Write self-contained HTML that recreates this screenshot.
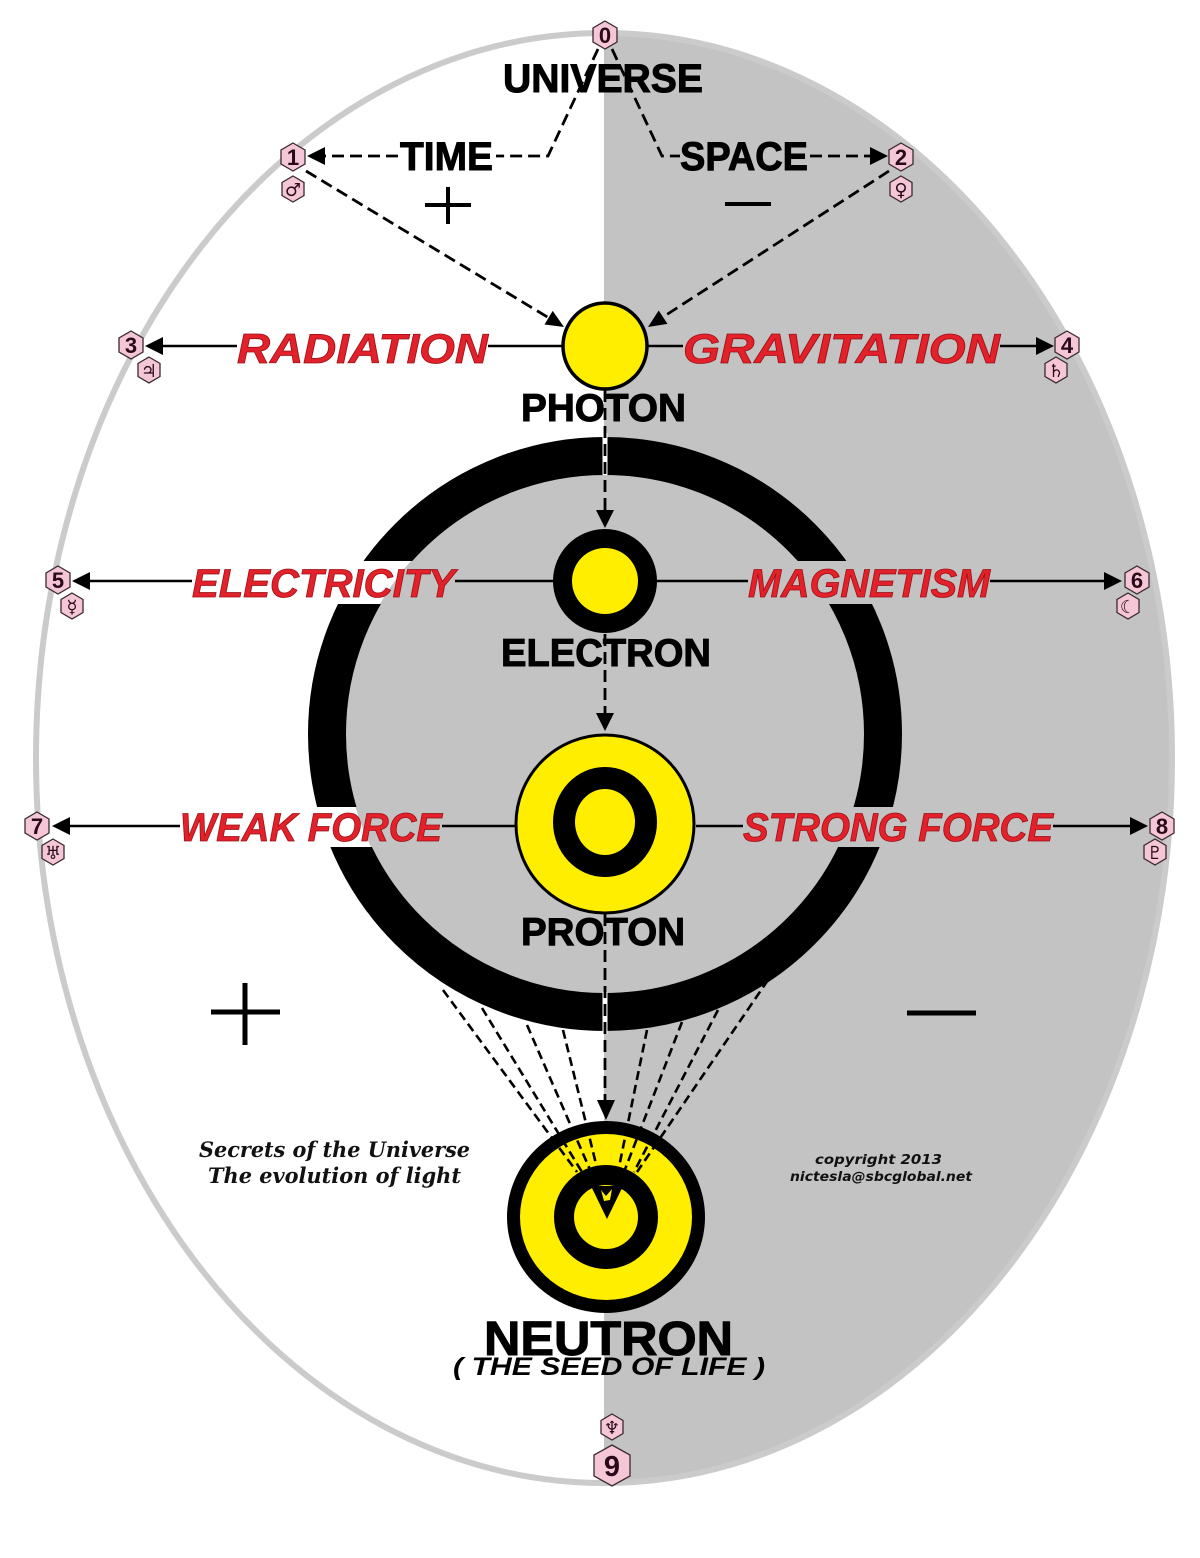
<!DOCTYPE html>
<html>
<head>
<meta charset="utf-8">
<style>
  html,body{margin:0;padding:0;background:#fff;}
  svg{display:block;}
  .blk{font-family:"Liberation Sans",Arial,sans-serif;font-weight:bold;fill:#000;stroke:#000;stroke-width:1;}
  .red{font-family:"Liberation Sans",Arial,sans-serif;font-weight:bold;font-style:italic;fill:#e3212a;stroke:#9a1015;stroke-width:0.8;}
  .num{font-family:"Liberation Sans",Arial,sans-serif;font-weight:bold;fill:#2a0a1a;text-anchor:middle;}
  .sym{font-family:"DejaVu Sans",sans-serif;font-weight:bold;fill:#2a0a1a;text-anchor:middle;}
  .hex{fill:#f4c6d6;stroke:#3a2a30;stroke-width:1.3;}
</style>
</head>
<body>
<svg width="1200" height="1558" viewBox="0 0 1200 1558" xmlns="http://www.w3.org/2000/svg">
  <defs>
    <mask id="ringmask">
      <rect x="0" y="0" width="1200" height="1558" fill="#fff"/>
      <rect x="150" y="561" width="310" height="43" fill="#000"/>
      <rect x="740" y="561" width="262" height="43" fill="#000"/>
      <rect x="150" y="807" width="300" height="40" fill="#000"/>
      <rect x="735" y="807" width="325" height="40" fill="#000"/>
    </mask>
    <polygon id="hx" points="0,-14 12,-7 12,7 0,14 -12,7 -12,-7"/>
    <polygon id="hs" points="0,-13 11,-6.5 11,6.5 0,13 -11,6.5 -11,-6.5"/>
  </defs>

  <!-- background -->
  <rect x="0" y="0" width="1200" height="1558" fill="#fff"/>
  <path d="M604,33 A568,725 0 0,1 604,1483 Z" fill="#c3c3c3"/>
  <ellipse cx="604" cy="758" rx="568" ry="725" fill="none" stroke="#cbcbcb" stroke-width="6"/>

  <!-- big ring interior -->
  <circle cx="605" cy="734" r="260" fill="#c3c3c3"/>
  <!-- big ring -->
  <circle cx="605" cy="734" r="278" fill="none" stroke="#000" stroke-width="38" mask="url(#ringmask)"/>
  <!-- gaps in ring -->
  <rect x="602.5" y="433" width="5" height="42" fill="#fff"/>
  <rect x="602.5" y="992" width="5" height="42" fill="#fff"/>

  <!-- plus / minus signs -->
  <g stroke="#000" stroke-width="4">
    <line x1="425" y1="205" x2="471" y2="205"/>
    <line x1="448" y1="187" x2="448" y2="224"/>
    <line x1="725" y1="204" x2="771" y2="204"/>
  </g>
  <g stroke="#000" stroke-width="5">
    <line x1="211" y1="1012" x2="280" y2="1012"/>
    <line x1="245" y1="983" x2="245" y2="1045"/>
    <line x1="907" y1="1013" x2="976" y2="1013"/>
  </g>

  <!-- top dashed connectors -->
  <g fill="none" stroke="#000" stroke-width="2.8" stroke-dasharray="12,6">
    <path d="M598,49 L548,156 L496,156"/>
    <path d="M398,156 L323,156"/>
    <path d="M612,49 L662,156 L680,156"/>
    <path d="M810,156 L872,156"/>
    <path d="M306,171 L549,318"/>
    <path d="M889,171 L663,317"/>
  </g>
  <g fill="#000">
    <polygon points="307,156 325,147 325,165"/>
    <polygon points="888,156 870,147 870,165"/>
    <polygon points="564,327 544.5,324.5 552.7,310.9"/>
    <polygon points="648,327 667.5,323.9 658.7,310.5"/>
  </g>

  <!-- vertical dashed connectors -->
  <g fill="none" stroke="#000" stroke-width="2.8" stroke-dasharray="12,6">
    <line x1="605" y1="390" x2="605" y2="512"/>
    <line x1="605" y1="634" x2="605" y2="714"/>
    <line x1="605" y1="914" x2="605" y2="1102"/>
  </g>
  <g fill="#000">
    <polygon points="605,528 596,510 614,510"/>
    <polygon points="605,731 596,713 614,713"/>
    <polygon points="606,1120 597,1100 615,1100"/>
  </g>

  <!-- photon -->
  <ellipse cx="605" cy="346" rx="42" ry="43" fill="#ffee00" stroke="#000" stroke-width="3.5"/>
  <!-- electron -->
  <circle cx="605" cy="581" r="52" fill="#000"/>
  <circle cx="605" cy="581" r="33" fill="#ffee00"/>
  <!-- proton -->
  <circle cx="605" cy="824" r="89" fill="#ffee00" stroke="#000" stroke-width="3"/>
  <ellipse cx="605" cy="822" rx="52" ry="55" fill="#000"/>
  <ellipse cx="605" cy="822" rx="30" ry="33" fill="#ffee00"/>
  <!-- neutron -->
  <ellipse cx="606" cy="1217" rx="99" ry="96" fill="#000"/>
  <ellipse cx="606" cy="1217" rx="86" ry="83" fill="#ffee00"/>
  <circle cx="606" cy="1217" r="52" fill="#000"/>
  <circle cx="606" cy="1217" r="32" fill="#ffee00"/>
  <polygon points="607,1219 591,1186 623,1186" fill="#000"/>
  <polygon points="601,1190 606,1196 612,1189 610,1200 604,1201" fill="#ffee00"/>

  <!-- fan dashed lines -->
  <g fill="none" stroke="#000" stroke-width="2.6" stroke-dasharray="9,5">
    <line x1="443" y1="990" x2="577" y2="1172"/>
    <line x1="482" y1="1008" x2="582" y2="1172"/>
    <line x1="527" y1="1025" x2="591" y2="1172"/>
    <line x1="563" y1="1030" x2="598" y2="1172"/>
    <line x1="768" y1="980" x2="637" y2="1172"/>
    <line x1="718" y1="1010" x2="634" y2="1172"/>
    <line x1="682" y1="1022" x2="624" y2="1172"/>
    <line x1="647" y1="1030" x2="618" y2="1172"/>
  </g>

  <!-- horizontal solid connectors -->
  <g stroke="#000" stroke-width="2.5">
    <line x1="160" y1="346" x2="237" y2="346"/>
    <line x1="488" y1="346" x2="563" y2="346"/>
    <line x1="648" y1="346" x2="683" y2="346"/>
    <line x1="1000" y1="346" x2="1040" y2="346"/>
    <line x1="88" y1="581" x2="192" y2="581"/>
    <line x1="455" y1="581" x2="553" y2="581"/>
    <line x1="657" y1="581" x2="748" y2="581"/>
    <line x1="990" y1="581" x2="1106" y2="581"/>
    <line x1="68" y1="826" x2="180" y2="826"/>
    <line x1="442" y1="826" x2="515" y2="826"/>
    <line x1="696" y1="826" x2="743" y2="826"/>
    <line x1="1053" y1="826" x2="1132" y2="826"/>
  </g>
  <g fill="#000">
    <polygon points="145,346 163,337 163,355"/>
    <polygon points="1054,346 1036,337 1036,355"/>
    <polygon points="72,581 90,572 90,590"/>
    <polygon points="1122,581 1104,572 1104,590"/>
    <polygon points="52,826 70,817 70,835"/>
    <polygon points="1148,826 1130,817 1130,835"/>
  </g>

  <!-- black labels -->
  <text class="blk" x="503" y="92" font-size="40" textLength="200" lengthAdjust="spacingAndGlyphs">UNIVERSE</text>
  <text class="blk" x="400" y="170" font-size="40" textLength="93" lengthAdjust="spacingAndGlyphs">TIME</text>
  <text class="blk" x="680" y="170" font-size="40" textLength="128" lengthAdjust="spacingAndGlyphs">SPACE</text>
  <text class="blk" x="521" y="421" font-size="39" textLength="165" lengthAdjust="spacingAndGlyphs">PHOTON</text>
  <text class="blk" x="501" y="666" font-size="39" textLength="210" lengthAdjust="spacingAndGlyphs">ELECTRON</text>
  <text class="blk" x="521" y="945" font-size="39" textLength="164" lengthAdjust="spacingAndGlyphs">PROTON</text>
  <text class="blk" x="484" y="1355" font-size="48" textLength="249" lengthAdjust="spacingAndGlyphs">NEUTRON</text>
  <text x="453" y="1375" font-size="25" textLength="312" lengthAdjust="spacingAndGlyphs" style="font-family:'Liberation Sans',Arial,sans-serif;font-weight:bold;font-style:italic;fill:#000;">( THE SEED OF LIFE )</text>

  <!-- red labels -->
  <text class="red" x="237" y="363" font-size="42" textLength="251" lengthAdjust="spacingAndGlyphs">RADIATION</text>
  <text class="red" x="683" y="363" font-size="42" textLength="317" lengthAdjust="spacingAndGlyphs">GRAVITATION</text>
  <text class="red" x="192" y="597" font-size="40" textLength="263" lengthAdjust="spacingAndGlyphs">ELECTRICITY</text>
  <text class="red" x="748" y="597" font-size="40" textLength="242" lengthAdjust="spacingAndGlyphs">MAGNETISM</text>
  <text class="red" x="180" y="841" font-size="40" textLength="262" lengthAdjust="spacingAndGlyphs">WEAK FORCE</text>
  <text class="red" x="743" y="841" font-size="40" textLength="310" lengthAdjust="spacingAndGlyphs">STRONG FORCE</text>

  <!-- captions -->
  <text x="199" y="1157" font-size="21" textLength="271" lengthAdjust="spacingAndGlyphs" style="font-family:'DejaVu Serif','Liberation Serif',serif;font-weight:bold;font-style:italic;fill:#111;">Secrets of the Universe</text>
  <text x="208" y="1183" font-size="21" textLength="253" lengthAdjust="spacingAndGlyphs" style="font-family:'DejaVu Serif','Liberation Serif',serif;font-weight:bold;font-style:italic;fill:#111;">The evolution of light</text>
  <text x="815" y="1164" font-size="13" textLength="127" lengthAdjust="spacingAndGlyphs" style="font-family:'DejaVu Sans',sans-serif;font-weight:bold;font-style:italic;fill:#111;">copyright  2013</text>
  <text x="790" y="1181" font-size="13" textLength="182" lengthAdjust="spacingAndGlyphs" style="font-family:'DejaVu Sans',sans-serif;font-weight:bold;font-style:italic;fill:#111;">nictesla@sbcglobal.net</text>

  <!-- badges -->
  <g>
    <use href="#hx" class="hex" x="605" y="35"/>
    <text class="num" x="605" y="43" font-size="22">0</text>

    <use href="#hx" class="hex" x="293" y="157"/>
    <text class="num" x="293" y="165" font-size="22">1</text>
    <use href="#hs" class="hex" x="293" y="189"/>
    <text class="sym" x="293" y="196" font-size="18">♂</text>

    <use href="#hx" class="hex" x="901" y="157"/>
    <text class="num" x="901" y="165" font-size="22">2</text>
    <use href="#hs" class="hex" x="901" y="189"/>
    <text class="sym" x="901" y="196" font-size="18">♀</text>

    <use href="#hx" class="hex" x="131" y="345"/>
    <text class="num" x="131" y="353" font-size="22">3</text>
    <use href="#hs" class="hex" x="149" y="370"/>
    <text class="sym" x="149" y="377" font-size="18">♃</text>

    <use href="#hx" class="hex" x="1067" y="345"/>
    <text class="num" x="1067" y="353" font-size="22">4</text>
    <use href="#hs" class="hex" x="1056" y="370"/>
    <text class="sym" x="1056" y="377" font-size="18">♄</text>

    <use href="#hx" class="hex" x="58" y="580"/>
    <text class="num" x="58" y="588" font-size="22">5</text>
    <use href="#hs" class="hex" x="72" y="606"/>
    <text class="sym" x="72" y="613" font-size="18">☿</text>

    <use href="#hx" class="hex" x="1137" y="580"/>
    <text class="num" x="1137" y="588" font-size="22">6</text>
    <use href="#hs" class="hex" x="1128" y="606"/>
    <text class="sym" x="1128" y="613" font-size="18">☾</text>

    <use href="#hx" class="hex" x="37" y="826"/>
    <text class="num" x="37" y="834" font-size="22">7</text>
    <use href="#hs" class="hex" x="53" y="852"/>
    <text class="sym" x="53" y="859" font-size="18">♅</text>

    <use href="#hx" class="hex" x="1162" y="826"/>
    <text class="num" x="1162" y="834" font-size="22">8</text>
    <use href="#hs" class="hex" x="1155" y="852"/>
    <text class="sym" x="1155" y="859" font-size="18">♇</text>

    <use href="#hs" class="hex" x="612" y="1427"/>
    <text class="sym" x="612" y="1434" font-size="18">♆</text>
    <polygon class="hex" points="612,1445 630,1455 630,1476 612,1486 594,1476 594,1455"/>
    <text class="num" x="612" y="1476" font-size="29">9</text>
  </g>
</svg>
</body>
</html>
